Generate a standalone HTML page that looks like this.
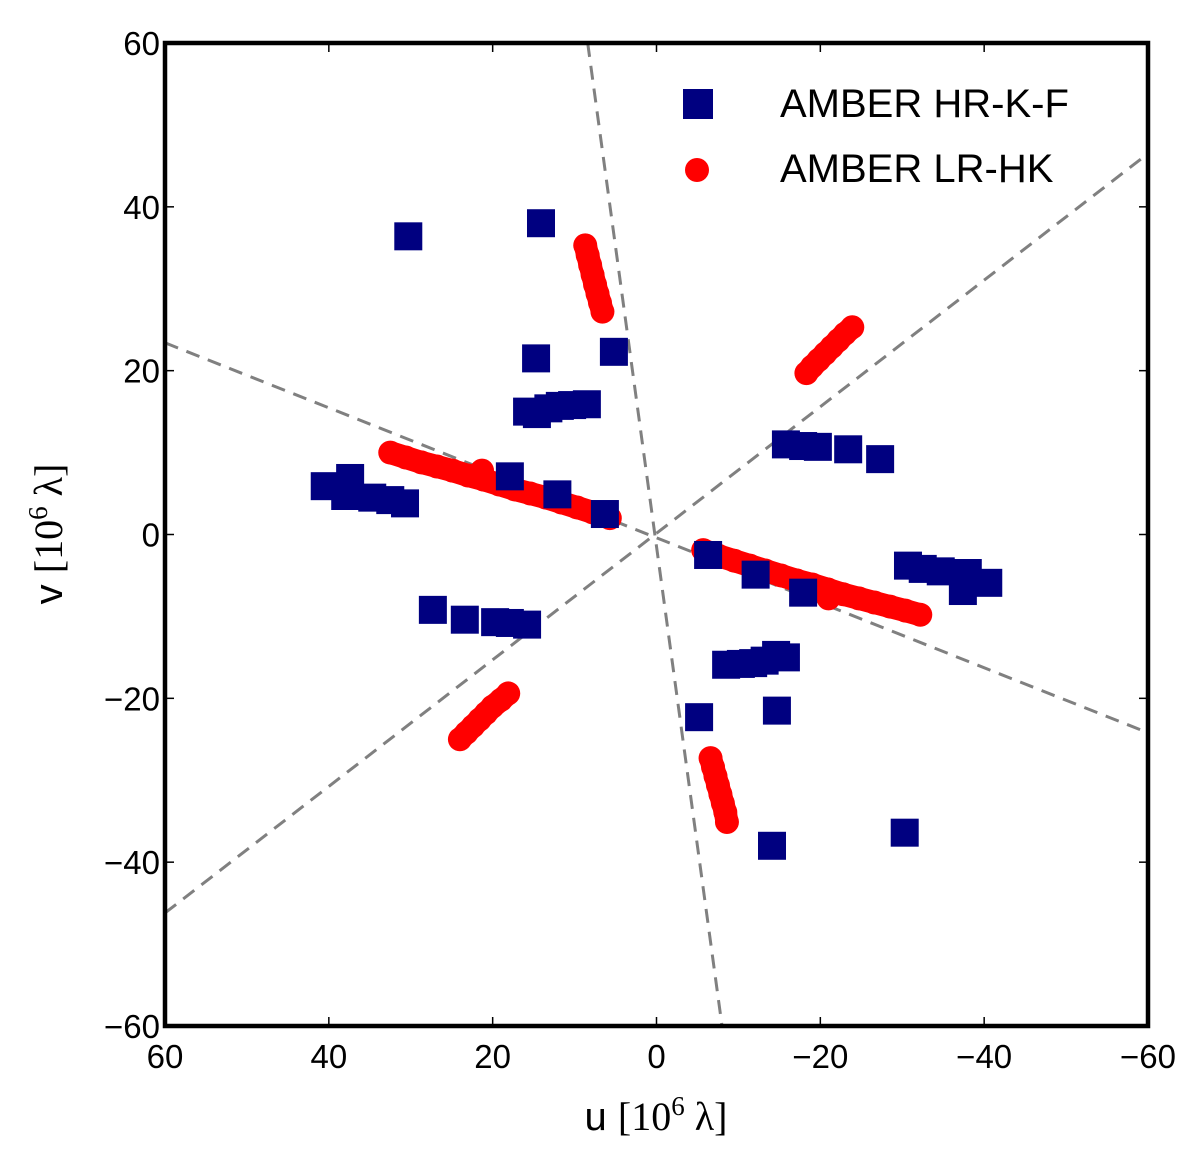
<!DOCTYPE html>
<html><head><meta charset="utf-8"><style>
body{margin:0;background:#fff}
text{font-family:"Liberation Sans",sans-serif}
</style></head><body>
<svg id="chart" width="1200" height="1163" xmlns="http://www.w3.org/2000/svg">
<g id="dashed"></g>
<g id="red"></g>
<g id="blue"></g>
<rect x="165" y="43" width="983" height="983" fill="none" stroke="#000" stroke-width="4.5"/>
<g id="ticks"></g>
<text x="656" y="1130" font-size="40" text-anchor="middle">u <tspan font-family="Liberation Serif"> [10<tspan dy="-15" font-size="27">6</tspan><tspan dy="15"> λ]</tspan></tspan></text>
<text transform="translate(62,534) rotate(-90)" font-size="40" text-anchor="middle">v <tspan font-family="Liberation Serif"> [10<tspan dy="-15" font-size="27">6</tspan><tspan dy="15"> λ]</tspan></tspan></text>
<g>
<rect x="683" y="89" width="30" height="30" fill="#000080"/>
<text x="780" y="117" font-size="40">AMBER HR-K-F</text>
<circle cx="697" cy="170" r="12" fill="#ff0000"/>
<text x="780" y="182" font-size="40">AMBER LR-HK</text>
</g>
</svg>
<script>
const blueU=[30.3,14.1,14.7,5.2,15.8,14.6,13.2,11.8,10.3,8.5,40.5,38.0,37.4,34.7,32.5,30.7,17.9,12.1,6.3,27.3,23.4,19.7,17.9,15.8,
 -30.3,-14.1,-14.7,-5.2,-15.8,-14.6,-13.2,-11.8,-10.3,-8.5,-40.5,-38.0,-37.4,-34.7,-32.5,-30.7,-17.9,-12.1,-6.3,-27.3,-23.4,-19.7,-17.9,-15.8];
const blueV=[36.4,38.0,21.5,22.3,15.0,14.7,15.4,15.7,15.8,15.9,5.9,4.7,6.9,4.5,4.2,3.8,7.1,4.9,2.5,-9.2,-10.4,-10.7,-10.8,-11.0,
 -36.4,-38.0,-21.5,-22.3,-15.0,-14.7,-15.4,-15.7,-15.8,-15.9,-5.9,-4.7,-6.9,-4.5,-4.2,-3.8,-7.1,-4.9,-2.5,9.2,10.4,10.7,10.8,11.0];
const redU=[8.7,8.4,8.1,7.8,7.5,7.2,6.9,6.6,
 -18.3,-19.0,-19.8,-20.6,-21.4,-22.2,-23.0,-23.9,
 32.5,30.6,28.7,26.8,24.9,23.0,21.1,21.3,19.2,17.3,15.4,13.5,11.6,9.7,7.8,5.7,
 -5.7,-7.6,-9.5,-11.4,-13.3,-15.2,-17.1,-19.0,-20.9,-21.0,-22.8,-24.7,-26.6,-28.5,-30.4,-32.2,
 24.0,23.2,22.4,21.6,20.8,20.0,19.0,18.1,
 -6.6,-6.9,-7.2,-7.5,-7.8,-8.1,-8.4,-8.6];
const redV=[35.3,34.1,32.9,31.7,30.5,29.4,28.3,27.2,
 19.7,20.5,21.3,22.1,22.9,23.7,24.5,25.3,
 10.0,9.4,8.8,8.3,7.8,7.2,6.7,7.8,6.1,5.5,5.0,4.5,3.9,3.3,2.7,2.0,
 -1.9,-2.6,-3.2,-3.8,-4.4,-5.0,-5.6,-6.1,-6.7,-7.8,-7.3,-7.8,-8.3,-8.8,-9.3,-9.8,
 -25.0,-24.2,-23.4,-22.6,-21.8,-21.0,-20.2,-19.4,
 -27.3,-28.4,-29.5,-30.6,-31.7,-32.8,-33.9,-35.1];
const redTrack=[0,0,0,0,0,0,0,0, 1,1,1,1,1,1,1,1, 2,2,2,2,2,2,2,9,2,2,2,2,2,2,2,2, 3,3,3,3,3,3,3,3,3,9,3,3,3,3,3,3, 4,4,4,4,4,4,4,4, 5,5,5,5,5,5,5,5];
const lineU1=[8.4,60,60], lineV1=[60,-46.2,23.4];
const lineU2=[-8.0,-60,-60], lineV2=[-60,46.5,-24.2];
const tickVals=[60,40,20,0,-20,-40,-60];
const tickLabels=["60","40","20","0","\u221220","\u221240","\u221260"];

const L=165,R=1148,T=43,B=1026;
const xs=u=>L+(60-u)/120*(R-L);
const ys=v=>T+(60-v)/120*(B-T);
const NS="http://www.w3.org/2000/svg";
function mk(tag,parent,attrs){const e=document.createElementNS(NS,tag);for(const k in attrs)e.setAttribute(k,attrs[k]);document.getElementById(parent).appendChild(e);return e;}

const clip=document.createElementNS(NS,'clipPath');clip.id='pc';
const cr=document.createElementNS(NS,'rect');cr.setAttribute('x',L);cr.setAttribute('y',T);cr.setAttribute('width',R-L);cr.setAttribute('height',B-T);
clip.appendChild(cr);document.getElementById('chart').prepend(clip);
document.getElementById('dashed').setAttribute('clip-path','url(#pc)');

for(let i=0;i<lineU1.length;i++){
 const e=mk('line','dashed',{x1:xs(lineU1[i]),y1:ys(lineV1[i]),x2:xs(lineU2[i]),y2:ys(lineV2[i]),stroke:'#808080','stroke-width':3,'stroke-dasharray':'14,9'});
 
 
}
for(let t=0;t<6;t++){
 const pts=[];
 for(let i=0;i<redU.length;i++) if(redTrack[i]===t) pts.push(xs(redU[i])+','+ys(redV[i]));
 const p=mk('polyline','red',{points:pts.join(' '),fill:'none',stroke:'#ff0000','stroke-width':23,'stroke-linecap':'round','stroke-linejoin':'round'});
 
 
}
for(let i=0;i<redU.length;i++){
 const e=mk('circle','red',{cx:xs(redU[i]),cy:ys(redV[i]),r:12,fill:'#ff0000'});
 
 
}
for(let i=0;i<blueU.length;i++){
 const e=mk('rect','blue',{x:xs(blueU[i])-14,y:ys(blueV[i])-14,width:28,height:28,fill:'#000080'});
 
 
}
for(let i=0;i<tickVals.length;i++){
 const x=xs(tickVals[i]),y=ys(tickVals[i]);
 mk('line','ticks',{x1:x,y1:B,x2:x,y2:B-9,stroke:'#000','stroke-width':1.5});
 mk('line','ticks',{x1:x,y1:T,x2:x,y2:T+9,stroke:'#000','stroke-width':1.5});
 mk('line','ticks',{x1:L,y1:y,x2:L+9,y2:y,stroke:'#000','stroke-width':1.5});
 mk('line','ticks',{x1:R,y1:y,x2:R-9,y2:y,stroke:'#000','stroke-width':1.5});
 const tx=mk('text','ticks',{x:x,y:B+42,'font-size':33,'text-anchor':'middle'});tx.textContent=tickLabels[i];
 
 
 const ty=mk('text','ticks',{x:L-5,y:y+12,'font-size':33,'text-anchor':'end'});ty.textContent=tickLabels[i];
 
 
}
</script>
</body></html>
